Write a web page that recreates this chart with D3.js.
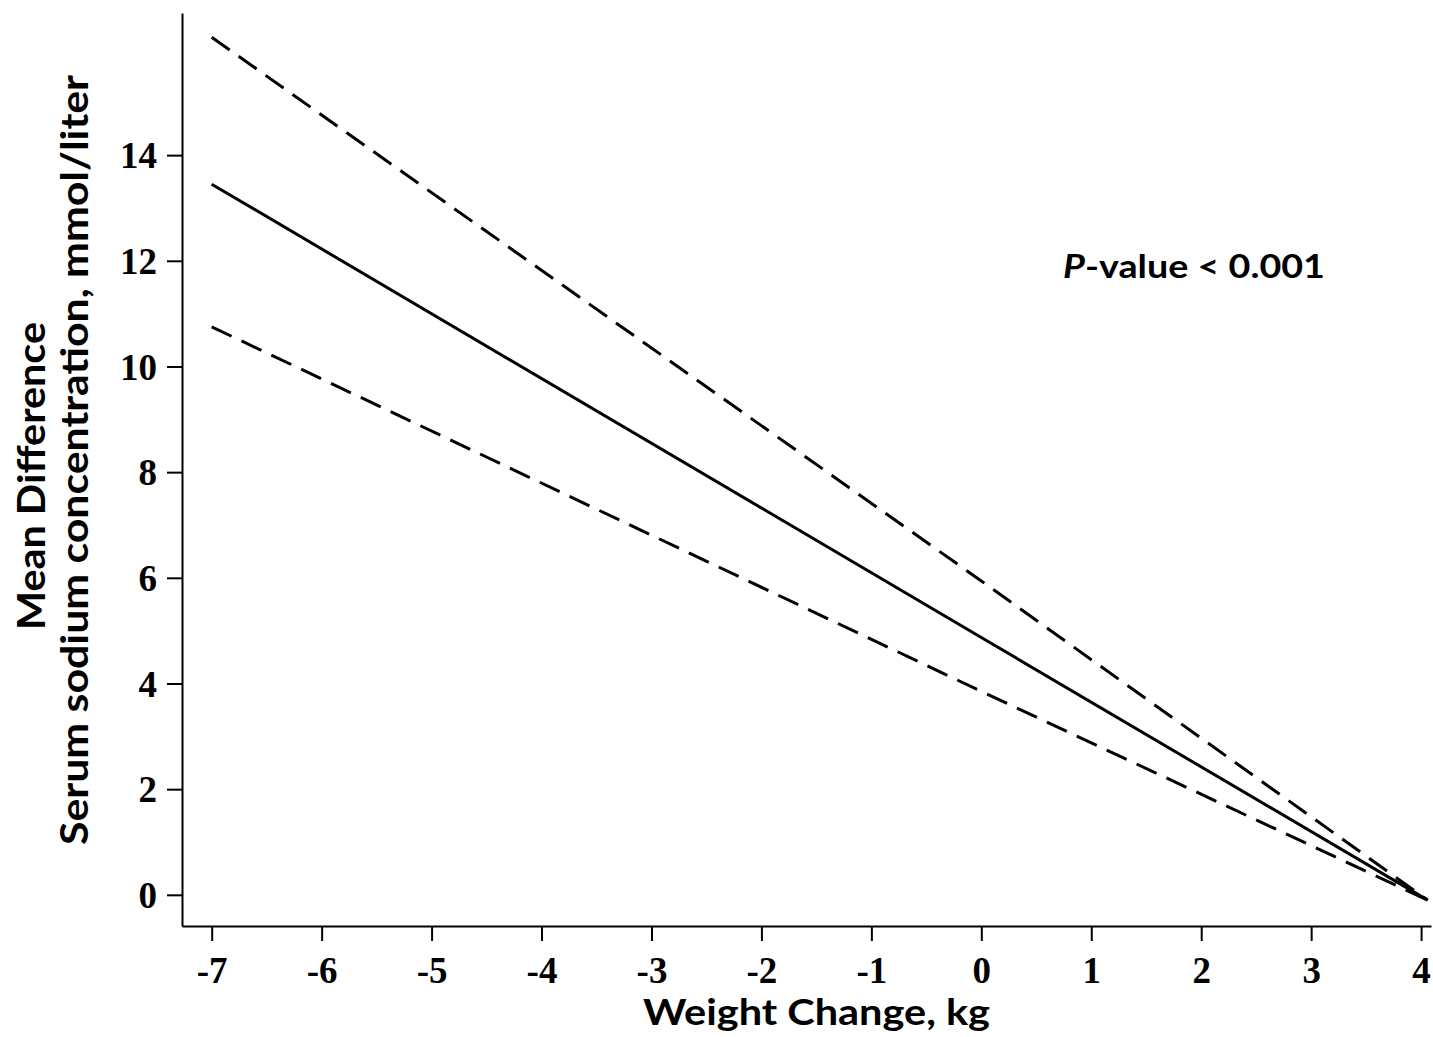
<!DOCTYPE html>
<html>
<head>
<meta charset="utf-8">
<script src="https://cdn.jsdelivr.net/npm/d3@7"></script>
<style>
  body { margin: 0; background: #fff; }
  .tick text { font-family: "Liberation Serif", serif; font-weight: bold; font-size: 37px; fill: #000; }
  .title { font-family: Lato, "Open Sans", sans-serif; font-weight: bold; fill: #000; }
</style>
</head>
<body>
<svg id="chart"></svg>
<script>
// weight change (kg) at the ends and middle of the fitted line
const weightChange = [-7, 0, 4.06];
const meanDiff = [13.45, 4.87, -0.1];
const upperCI = [16.23, 5.94, -0.1];
const lowerCI = [10.75, 3.85, -0.1];
const xTicks = [-7, -6, -5, -4, -3, -2, -1, 0, 1, 2, 3, 4];
const yTicks = [0, 2, 4, 6, 8, 10, 12, 14];

const W = 1433, H = 1037;
const svg = d3.select("#chart").attr("width", W).attr("height", H);

const x = d3.scaleLinear().domain([-7.27, 4.09]).range([182, 1431]);
const y = d3.scaleLinear().domain([-0.59, 16.69]).range([926, 13]);

const xAxis = d3.axisBottom(x).tickValues(xTicks).tickFormat(d => String(d))
  .tickSize(15).tickSizeOuter(0).tickPadding(14);
const yAxis = d3.axisLeft(y).tickValues(yTicks).tickFormat(d => String(d))
  .tickSize(15).tickSizeOuter(0).tickPadding(10);

const gx = svg.append("g")
  .attr("class", "x axis")
  .attr("transform", "translate(0," + 926 + ")")
  .call(xAxis);
const gy = svg.append("g")
  .attr("class", "y axis")
  .attr("transform", "translate(" + 182 + ",0)")
  .call(yAxis);

svg.selectAll(".axis path, .axis line")
  .attr("stroke", "#000")
  .attr("stroke-width", 2);
gy.selectAll(".tick text").attr("dy", "0.34em");
gx.selectAll(".tick text").attr("dy", "0.75em");

const line = d3.line()
  .x(d => x(d[0]))
  .y(d => y(d[1]));

const series = [
  {vals: upperCI, dash: "22,11"},
  {vals: meanDiff, dash: null},
  {vals: lowerCI, dash: "22,11"}
];

svg.append("g")
  .selectAll("path")
  .data(series)
  .join("path")
    .attr("fill", "none")
    .attr("stroke", "#000")
    .attr("stroke-width", 3)
    .attr("stroke-dasharray", d => d.dash)
    .attr("d", d => line(d.vals.map((v, i) => [weightChange[i], v])));

// axis titles
svg.append("text")
  .attr("class", "title")
  .attr("x", 643)
  .attr("y", 1025)
  .attr("textLength", 347)
  .attr("lengthAdjust", "spacingAndGlyphs")
  .style("font-size", "37px")
  .text("Weight Change, kg");

svg.append("text")
  .attr("class", "title")
  .attr("transform", "translate(45,630) rotate(-90)")
  .attr("textLength", 308)
  .attr("lengthAdjust", "spacingAndGlyphs")
  .style("font-size", "38px")
  .text("Mean Difference");
svg.append("text")
  .attr("class", "title")
  .attr("transform", "translate(88,845) rotate(-90)")
  .attr("textLength", 770)
  .attr("lengthAdjust", "spacingAndGlyphs")
  .style("font-size", "38px")
  .text("Serum sodium concentration, mmol/liter");

const pv = svg.append("text")
  .attr("class", "title")
  .attr("x", 1063)
  .attr("y", 278)
  .attr("textLength", 262)
  .attr("lengthAdjust", "spacingAndGlyphs")
  .style("font-size", "33px");
pv.append("tspan").style("font-style", "italic").text("P");
pv.append("tspan").text("-value < 0.001");
</script>
</body>
</html>
